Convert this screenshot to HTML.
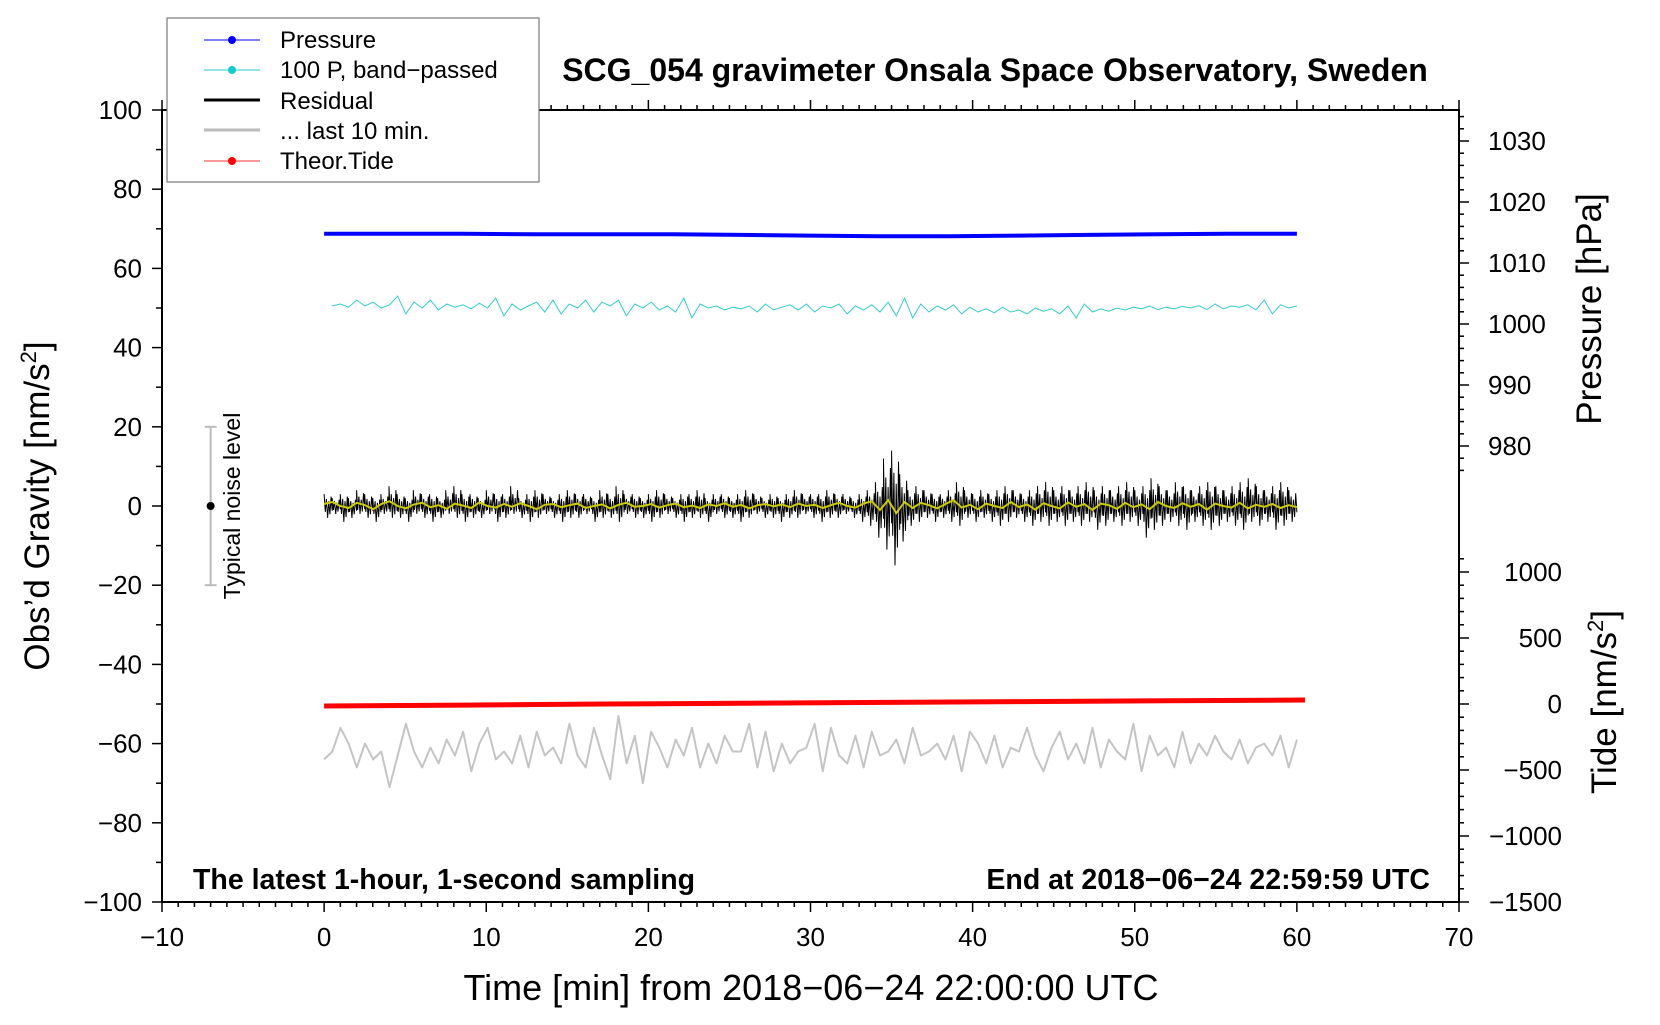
<!DOCTYPE html>
<html><head><meta charset="utf-8"><style>
body{margin:0;background:#fff;width:1660px;height:1020px;overflow:hidden}
svg{font-family:"Liberation Sans",sans-serif}
</style></head><body>
<svg id="c" width="1660" height="1020" xmlns="http://www.w3.org/2000/svg">
<g id="marks"></g>
<g id="axes"></g>
<text x="995" y="81" font-size="32" font-weight="bold" text-anchor="middle">SCG_054 gravimeter Onsala Space Observatory, Sweden</text>
<text x="193" y="889" font-size="28.5" font-weight="bold">The latest 1-hour, 1-second sampling</text>
<text x="1430" y="889" font-size="28.5" font-weight="bold" text-anchor="end">End at 2018−06−24 22:59:59 UTC</text>
<text x="811" y="1000" font-size="36" text-anchor="middle">Time [min] from 2018−06−24 22:00:00 UTC</text>
<text transform="translate(49,506) rotate(-90)" font-size="35" text-anchor="middle">Obs’d Gravity [nm/s<tspan font-size="22" dy="-13">2</tspan><tspan dy="13">]</tspan></text>
<text transform="translate(1601,309) rotate(-90)" font-size="35" text-anchor="middle">Pressure [hPa]</text>
<text transform="translate(1616,702) rotate(-90)" font-size="35" text-anchor="middle">Tide [nm/s<tspan font-size="22" dy="-13">2</tspan><tspan dy="13">]</tspan></text>
<g>
<rect x="167" y="18" width="372" height="164" fill="#fff" stroke="#777" stroke-width="1.2"/>
<line x1="204" y1="40" x2="260" y2="40" stroke="#00f" stroke-width="1"/><circle cx="232" cy="40" r="4" fill="#00f"/>
<text x="280" y="48" font-size="24">Pressure</text>
<line x1="204" y1="70" x2="260" y2="70" stroke="#2cc" stroke-width="1"/><circle cx="232" cy="70" r="4" fill="#1cc"/>
<text x="280" y="78" font-size="24">100 P, band−passed</text>
<line x1="204" y1="100" x2="260" y2="100" stroke="#000" stroke-width="3"/>
<text x="280" y="109" font-size="24">Residual</text>
<line x1="204" y1="130" x2="260" y2="130" stroke="#bbb" stroke-width="3"/>
<text x="280" y="139" font-size="24">... last 10 min.</text>
<line x1="204" y1="161" x2="260" y2="161" stroke="#f33" stroke-width="1"/><circle cx="232" cy="161" r="4" fill="#f00"/>
<text x="280" y="169" font-size="24">Theor.Tide</text>
</g>
</svg>
<script>
const xTicks=[-10,0,10,20,30,40,50,60,70];
const yTicks=[-100,-80,-60,-40,-20,0,20,40,60,80,100];
const pTicks=[980,990,1000,1010,1020,1030];
const tTicks=[-1500,-1000,-500,0,500,1000];
const pressure=[1014.8,1014.8,1014.8,1014.7,1014.7,1014.7,1014.6,1014.5,1014.4,1014.4,1014.5,1014.6,1014.7,1014.8,1014.8];
const tide=[-15,-8,0,6,12,18,24,30];
const resMax=[3,2,3,2,4,3,2,3,5,3,2,4,3,3,2,4,5,3,3,2,4,3,3,5,2,3,4,3,2,3,4,3,3,2,4,3,5,3,3,2,3,4,3,2,3,3,4,2,3,3,2,3,4,3,2,3,2,3,4,3,3,3,4,3,3,2,3,4,6,12,14,8,4,5,4,3,3,4,6,4,3,4,3,4,5,4,3,4,5,6,4,5,4,5,6,4,5,4,5,6,4,5,7,5,4,6,5,4,5,6,5,4,5,6,7,5,4,5,6,4];
const resMin=[-3,-2,-4,-3,-2,-3,-4,-2,-3,-3,-4,-2,-3,-4,-3,-2,-3,-4,-3,-3,-2,-4,-3,-2,-3,-4,-3,-2,-3,-4,-3,-3,-2,-4,-3,-3,-4,-2,-3,-3,-4,-3,-2,-3,-4,-3,-3,-4,-2,-3,-3,-4,-3,-2,-3,-3,-4,-3,-3,-2,-3,-4,-3,-3,-2,-3,-4,-5,-8,-11,-15,-9,-5,-4,-3,-4,-3,-4,-5,-3,-4,-3,-4,-5,-4,-3,-4,-5,-4,-5,-4,-5,-4,-5,-4,-6,-5,-4,-5,-4,-5,-8,-6,-5,-4,-5,-6,-4,-5,-6,-5,-4,-5,-6,-4,-5,-4,-6,-5,-4];
const smooth=[0.5,1,0,-0.5,0.8,0.2,-0.8,0.5,1.2,0,-0.6,0.4,0.8,-0.3,0.2,-0.7,0.6,0.1,-0.5,0.9,0,-0.4,0.5,-0.2,0.7,0,-0.8,0.3,0.5,-0.3,0.2,0.6,-0.5,0,0.4,-0.6,0.3,0.8,-0.2,0,0.5,-0.4,0.2,0.6,-0.3,0.1,-0.5,0.4,0,0.7,-0.2,0.3,-0.6,0.2,0.5,-0.1,0.4,-0.3,0.6,0,0.3,-0.5,0.2,0.8,0,-0.4,0.6,1.2,-1,1.5,-1.8,1,-0.5,0.8,0.2,-0.6,0.5,1.5,-0.4,0.3,-0.8,0.6,0,-0.5,1,-0.3,0.4,-0.9,0.7,0,-0.6,0.9,-0.2,0.5,-1,0.6,0.2,-0.7,0.8,-0.3,0.4,-0.8,1,0,-0.5,0.7,-0.2,0.5,-0.9,0.6,0,-0.4,0.8,-0.6,0.3,-0.2,0.5,-0.5,0.2,-0.3];
const cyan=[50.5,51,50.2,52,50.5,51.5,50,50.8,53,48.5,51.5,50,52,49.5,51,50.2,50.8,49.8,51.2,50,52.5,48,51,49.5,50.5,51.5,49,52,48.5,51,50,52,49,51.5,50.5,52,48,51,50,51.5,49.5,50.5,49,52.5,47.5,51,50,50.5,49.5,50.2,49.8,50.5,49,51,49.5,50.2,50.8,49.5,51,49,50.5,50,51,48.5,50.5,49.5,50.8,49,51.5,48,52.5,47.5,51,49,50.5,49.5,50.8,48.5,50.2,49,49.8,48.8,50.2,49,49.5,48.5,50,49.2,49.8,48.5,50.5,47.5,51,49,49.8,49.2,50,49.5,50.2,49.8,50.5,49.6,50.2,49.8,50.4,50,50.6,49.6,51,49.8,50.5,50.2,50.8,49.5,52,48.5,50.8,50,50.5];
const gray=[-64,-62,-56,-60,-66,-60,-64,-62,-71,-63,-55,-62,-66,-61,-65,-59,-63,-57,-67,-60,-56,-64,-62,-65,-58,-66,-57,-63,-61,-65,-55,-63,-66,-56,-63,-69,-53,-65,-58,-70,-57,-61,-66,-59,-63,-56,-66,-60,-65,-58,-62,-62,-55,-66,-57,-67,-60,-65,-62,-61,-55,-67,-56,-63,-65,-58,-66,-57,-63,-62,-59,-65,-56,-63,-62,-60,-64,-58,-67,-57,-60,-65,-58,-66,-61,-62,-56,-63,-67,-61,-57,-64,-60,-65,-56,-66,-59,-62,-64,-55,-67,-58,-63,-61,-66,-57,-65,-60,-63,-58,-62,-64,-59,-65,-61,-60,-63,-58,-66,-59];
const NS="http://www.w3.org/2000/svg";
const X=t=>162+(t+10)*1297/80, Y=g=>110+(100-g)*792/200, P=p=>141+(1030-p)*6.1, T=v=>572+(1000-v)*0.132;
const marks=document.getElementById('marks'), axes=document.getElementById('axes');
function mk(tag,at,parent){const e=document.createElementNS(NS,tag);for(const k in at)e.setAttribute(k,at[k]);parent.appendChild(e);return e;}
function series(arr,t0,t1,fy){return arr.map((v,i)=>X(t0+(t1-t0)*i/(arr.length-1)).toFixed(1)+','+fy(v).toFixed(1)).join(' ');}
let nb=mk('line',{x1:X(-7),x2:X(-7),y1:Y(20),y2:Y(-20),stroke:'#bbb','stroke-width':2},marks);


mk('line',{x1:X(-7)-6,x2:X(-7)+6,y1:Y(20),y2:Y(20),stroke:'#bbb','stroke-width':2},marks);
mk('line',{x1:X(-7)-6,x2:X(-7)+6,y1:Y(-20),y2:Y(-20),stroke:'#bbb','stroke-width':2},marks);
mk('circle',{cx:X(-7),cy:Y(0),r:4,fill:'#000'},marks);
let nt=mk('text',{transform:`translate(${X(-5.2)},${Y(0)}) rotate(-90)`,'font-size':23,'text-anchor':'middle'},marks);
nt.textContent='Typical noise level';


let pl=mk('polyline',{points:series(pressure,0,60,P),fill:'none',stroke:'#00f','stroke-width':4},marks);


let cl=mk('polyline',{points:series(cyan,0.5,60,Y),fill:'none',stroke:'#3cc','stroke-width':1},marks);


const fr4=[1,-0.5,0.6,-1,0.4,-0.7,0.8,-0.4];
let pts=[];const dt=60/resMax.length;
resMax.forEach((v,i)=>{const t=dt*i;fr4.forEach((f,k)=>{pts.push(X(t+dt*k/(fr4.length-1)).toFixed(1)+','+Y(f>0?v*f:resMin[i]*(-f)).toFixed(1));});});
let rl=mk('polyline',{points:pts.join(' '),fill:'none',stroke:'#000','stroke-width':1},marks);


let yl=mk('polyline',{points:series(smooth,0,60,Y),fill:'none',stroke:'#cc0','stroke-width':2},marks);


let tl=mk('polyline',{points:series(tide,0,60.5,T),fill:'none',stroke:'#f00','stroke-width':5},marks);


let gl=mk('polyline',{points:series(gray,0,60,Y),fill:'none',stroke:'#c4c4c4','stroke-width':2,'stroke-linejoin':'round'},marks);


let fr=mk('rect',{x:162,y:110,width:1297,height:792,fill:'none',stroke:'#000','stroke-width':2},axes);


for(let t=-10;t<=70;t++){const mj=t%10===0,l=mj?10:5;
 mk('line',{x1:X(t),x2:X(t),y1:902,y2:902+l,stroke:'#000','stroke-width':1.5},axes);
 mk('line',{x1:X(t),x2:X(t),y1:110,y2:110-l,stroke:'#000','stroke-width':1.5},axes);}
xTicks.forEach(t=>{let e=mk('text',{x:X(t),y:946,'font-size':26,'text-anchor':'middle'},axes);e.textContent=String(t).replace('-','−');

});
for(let g=-100;g<=100;g+=10){const mj=g%20===0;mk('line',{x1:162,x2:mj?152:156,y1:Y(g),y2:Y(g),stroke:'#000','stroke-width':1.5},axes);}
yTicks.forEach(g=>{let e=mk('text',{x:142,y:Y(g)+9,'font-size':26,'text-anchor':'end'},axes);e.textContent=String(g).replace('-','−');

});
for(let p=976;p<=1034;p+=2){const mj=p%10===0;mk('line',{x1:1459,x2:mj?1469:1464,y1:P(p),y2:P(p),stroke:'#000','stroke-width':1.5},axes);}
pTicks.forEach(p=>{let e=mk('text',{x:1488,y:P(p)+9,'font-size':26},axes);e.textContent=p;

});
for(let v=-1500;v<=1100;v+=100){const mj=v%500===0;mk('line',{x1:1459,x2:mj?1469:1464,y1:T(v),y2:T(v),stroke:'#000','stroke-width':1.5},axes);}
tTicks.forEach(v=>{let e=mk('text',{x:1562,y:T(v)+9,'font-size':26,'text-anchor':'end'},axes);e.textContent=String(v).replace('-','−');

});
</script>
</body></html>
